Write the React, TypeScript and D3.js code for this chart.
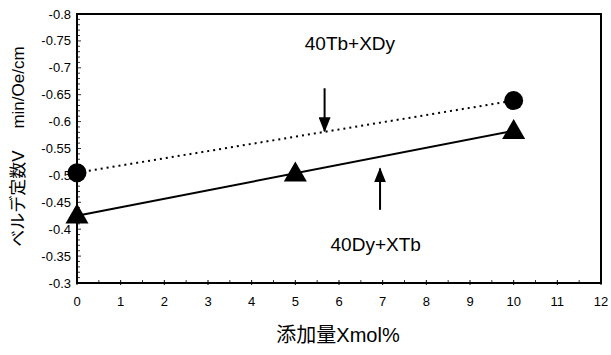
import React from "react";
import * as d3 from "d3";

// 添加量 X (mol%)
const xTb = [0, 10]; // 40Tb+XDy (circles, dotted)
const vTb = [-0.505, -0.639];
const xDy = [0, 5, 10]; // 40Dy+XTb (triangles, solid)
const vDy = [-0.425, -0.503, -0.582];
const fitDy = [-0.425, -0.583]; // trend line ends at x=0 and x=10

const xTicks = d3.range(0, 13);
const yTicks = [-0.8, -0.75, -0.7, -0.65, -0.6, -0.55, -0.5, -0.45, -0.4, -0.35, -0.3];

const W = 611;
const H = 355;
const m = { left: 77, right: 10, top: 14, bottom: 72 };

const font = "'Liberation Sans', Arial, 'Noto Sans CJK JP', sans-serif";

export default function App() {
  const x = d3.scaleLinear().domain([0, 12]).range([m.left, W - m.right]);
  const y = d3.scaleLinear().domain([-0.8, -0.3]).range([m.top, H - m.bottom]);
  const line = d3
    .line<[number, number]>()
    .x((d) => x(d[0]))
    .y((d) => y(d[1]));

  const yMinor = d3.range(-0.8, -0.2999, 0.01);
  const xMinor = d3.range(0.5, 12, 1);
  const tri = d3.symbol().type(d3.symbolTriangle).size(230)();

  const x0 = x(0), x1 = x(12), y0 = y(-0.8), y1 = y(-0.3);

  return (
    <svg width={W} height={H} style={{ position: "absolute", left: 0, top: 0, background: "#fff" }}>
      <defs>
        <marker id="ah" viewBox="0 0 15 12" refX="14" refY="6" markerWidth="15" markerHeight="12" markerUnits="userSpaceOnUse" orient="auto">
          <path d="M0,0 L15,6 L0,12 z" fill="#000" />
        </marker>
      </defs>
      {/* y ticks */}
      {yMinor.map((v, i) => (
        <line key={"ym" + i} x1={x0} x2={x0 + (i % 5 === 0 ? 4 : 3)} y1={y(v)} y2={y(v)} stroke="#000" strokeWidth={0.8} />
      ))}
      {yTicks.map((v) => (
        <text key={"yt" + v} x={x0 - 6} y={y(v) + 4.5} textAnchor="end" fontSize={13} fontFamily={font}>
          {v}
        </text>
      ))}
      {/* x ticks */}
      {xTicks.map((v) => (
        <g key={"xt" + v}>
          <line x1={x(v)} x2={x(v)} y1={y1 - 3} y2={y1 + 2} stroke="#000" strokeWidth={1} />
          <text x={x(v)} y={y1 + 23} textAnchor="middle" fontSize={13} fontFamily={font}>
            {v}
          </text>
        </g>
      ))}
      {xMinor.map((v) => (
        <line key={"xm" + v} x1={x(v)} x2={x(v)} y1={y1 - 3} y2={y1} stroke="#000" strokeWidth={0.8} />
      ))}
      {/* frame */}
      <rect x={x0} y={y0} width={x1 - x0} height={y1 - y0} fill="none" stroke="#000" strokeWidth={2} />

      {/* series */}
      <path
        d={line(xTb.map((d, i) => [d, vTb[i]]) as [number, number][]) || ""}
        fill="none"
        stroke="#000"
        strokeWidth={2}
        strokeDasharray="2,4"
      />
      <path
        d={line(xTb.map((d, i) => [d, fitDy[i]]) as [number, number][]) || ""}
        fill="none"
        stroke="#000"
        strokeWidth={2}
      />
      {xTb.map((d, i) => (
        <circle key={"c" + i} cx={x(d)} cy={y(vTb[i])} r={9.5} fill="#000" />
      ))}
      {xDy.map((d, i) => (
        <path key={"t" + i} d={tri || ""} transform={`translate(${x(d)},${y(vDy[i]) + 1})`} fill="#000" />
      ))}

      {/* annotations */}
      <text x={x(6.25)} y={y(-0.733)} textAnchor="middle" fontSize={19} fontFamily={font}>
        40Tb+XDy
      </text>
      <line x1={x(5.67)} x2={x(5.67)} y1={y(-0.662)} y2={y(-0.582)} stroke="#000" strokeWidth={2} markerEnd="url(#ah)" />
      <line x1={x(6.94)} x2={x(6.94)} y1={y(-0.436)} y2={y(-0.513)} stroke="#000" strokeWidth={2} markerEnd="url(#ah)" />
      <text x={x(6.84)} y={y(-0.36)} textAnchor="middle" fontSize={19} fontFamily={font}>
        40Dy+XTb
      </text>

      {/* axis titles */}
      <text x={338} y={342} textAnchor="middle" fontSize={20} fontFamily={font}>
        添加量Xmol%
      </text>
      <text
        transform={`translate(24,${(y0 + y1) / 2 - 2}) rotate(-90)`}
        textAnchor="middle"
        fontSize={17}
        fontFamily={font}
        xmlSpace="preserve"
      >
        ベルデ定数V　 min/Oe/cm
      </text>
    </svg>
  );
}
